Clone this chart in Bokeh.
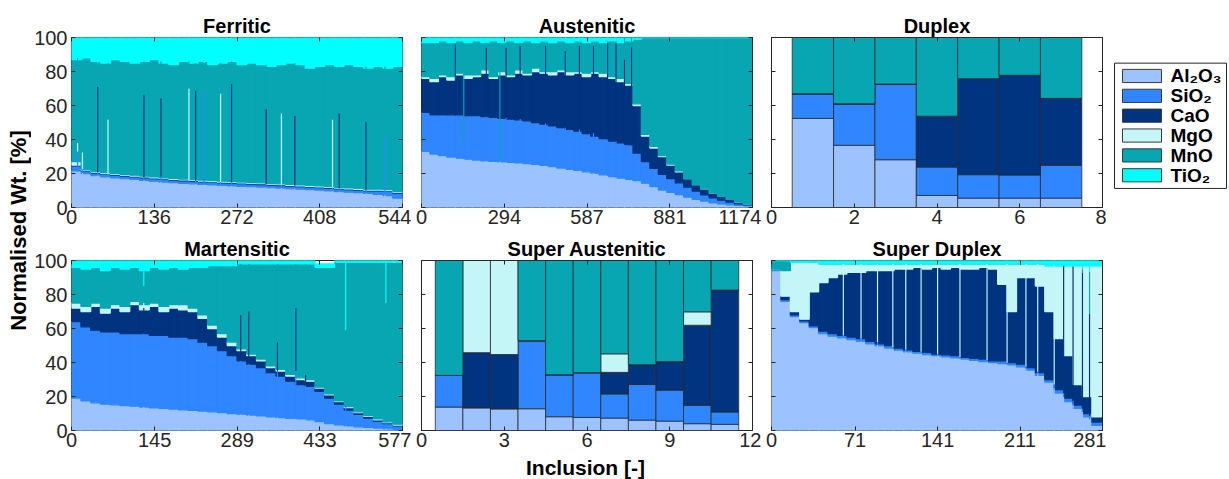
import math
from bokeh.plotting import figure
from bokeh.layouts import row, column
from bokeh.models import ColumnDataSource, Range1d, FixedTicker, LinearAxis
from bokeh.core.properties import value
from bokeh.embed import file_html
from bokeh.resources import INLINE

FONT = "Liberation Sans"
INK = "#262626"

OXIDES = ["Al₂O₃", "SiO₂", "CaO", "MgO", "MnO", "TiO₂"]
COLORS = ["#9CC3FF", "#2F86FF", "#003380", "#C4F5F7", "#08A6B3", "#00FFFF"]
KEYS = ["al2o3", "sio2", "cao", "mgo", "mno", "tio2"]
YTICKS = [0, 20, 40, 60, 80, 100]

# ---------------- Ferritic (n = 544) ----------------
FER_TICKS = [0, 136, 272, 408, 544]
FER_X = [8, 24, 40, 56, 72, 88, 104, 120, 136, 152, 168, 184, 200, 216, 232, 248, 264,
         280, 296, 312, 328, 344, 360, 376, 392, 408, 424, 440, 456, 472, 488, 504, 520, 536]
FER_AL = [21.5, 20, 18.8, 18, 17.5, 17, 16.5, 16, 15.5, 15, 14.6, 14.2, 13.9, 13.6, 13.3, 13, 12.8,
          12.5, 12.3, 12, 11.7, 11.4, 11.1, 10.8, 10.5, 10.2, 9.8, 9.4, 9, 8.7, 8.3, 7.8, 7, 5.5]
FER_SI = [3] + [1.5] * 30 + [2, 2.5, 3]
FER_CA = [0.5] * 34
FER_MG = [2] + [0.5] * 33
FER_MN = [60, 65.5, 64.7, 64.5, 67, 66.5, 66, 67.5, 69, 67.5, 66.9, 69.3, 68.6, 69.9, 68.2, 69.5, 70.7,
          69, 70.2, 69.5, 68.8, 70.1, 71.4, 70.7, 69, 70.3, 71.7, 71.1, 72.5, 71.8, 71.2, 72.2, 71.5, 73.5]
FER_TI = [13, 12, 14, 15, 13, 14, 15, 14, 13, 15, 16, 14, 15, 14, 16, 15, 14,
          16, 15, 16, 17, 16, 15, 16, 18, 17, 16, 17, 16, 17, 18, 17, 18, 17]
# single inclusions standing out of the trend
FERS_X = [10, 18, 43, 60, 119, 147, 193, 204, 218, 245, 263, 320, 345, 367, 429, 440, 484, 515]
FERS_AL = [21, 20.5, 18.9, 17.8, 16, 15.2, 14, 13.8, 13.5, 13, 12.8, 11.8, 11.4, 11, 9.7, 9.4, 8.4, 7.3]
FERS_SI = [12, 2, 2, 2, 2, 3, 2, 2, 55, 2, 2, 2, 2, 2, 2, 2, 2, 35]
FERS_CA = [0, 0, 50, 0, 48, 46, 0, 53, 0, 0, 58, 44, 0, 41, 0, 44, 40, 0]
FERS_MG = [5, 10, 0, 32, 0, 0, 54, 0, 0, 52, 0, 0, 42, 0, 40, 0, 0, 0]
FERS_MN = [50, 54.5, 14.1, 33.2, 20, 21.8, 16, 16.2, 16.5, 18, 13.2, 26.2, 28.6, 31, 32.3, 27.6, 32.6, 40.7]
FERS_TI = [12, 13, 15, 15, 14, 14, 14, 15, 15, 15, 14, 16, 16, 15, 16, 17, 17, 17]

# ---------------- Austenitic (n = 1174) ----------------
AUS_TICKS = [0, 294, 587, 881, 1174]
AUS_X = [15, 45, 75, 105, 135, 165, 195, 225, 255, 285, 315, 345, 375, 405, 435, 465, 495, 525, 555,
         585, 615, 645, 675, 705, 735, 765, 795, 825, 855, 885, 915, 945, 975, 1005, 1035, 1065, 1095,
         1125, 1155]
AUS_AL = [33.0, 31.4, 30.5, 29.7, 29.0, 28.4, 27.9, 27.5, 27.2, 26.9, 26.5, 26.2, 25.8, 25.4, 24.8,
          24.0, 23.2, 22.5, 21.8, 21.0, 20.2, 19.2, 18.2, 17.3, 16.5, 15.8, 14.3, 12.3, 10.3, 8.9, 7.6,
          6.1, 4.8, 3.7, 2.8, 2.1, 1.6, 1.2, 1.0]
AUS_SI = [23.0, 23.1, 24.0, 24.8, 25.5, 25.6, 26.1, 26.0, 25.8, 25.6, 25.5, 25.3, 25.2, 24.6, 24.2,
          24.0, 23.8, 23.5, 23.2, 22.5, 21.8, 21.3, 20.8, 20.7, 20.5, 16.2, 12.7, 10.7, 9.2, 8.1, 6.9,
          5.9, 4.8, 3.8, 2.9, 2.2, 1.6, 1.0, 0.6]
AUS_CA = [20.0, 19.5, 22.5, 20.5, 23.5, 22.0, 23.0, 25.5, 23.0, 25.5, 25.0, 27.5, 27.0, 30.0, 30.0,
          30.0, 33.0, 32.0, 34.0, 33.5, 37.0, 36.5, 37.0, 36.0, 35.0, 28.0, 15.0, 12.0, 10.5, 8.0, 6.5,
          5.0, 3.9, 3.5, 2.8, 2.2, 1.6, 1.0, 0.4]
AUS_MG = [1, 2, 1, 2, 1, 2, 1, 2, 1, 2, 1, 2, 1, 2, 1, 2, 1, 2, 1, 2, 1, 2, 1, 2, 1, 1, 1, 1, 0.5,
          0.5, 0.5, 0, 0, 0, 0, 0, 0, 0, 0]
AUS_MN = [20, 21, 20, 20, 19, 19, 20, 16, 21, 17, 20, 16, 19, 15, 18, 17, 17, 17, 18, 18, 18, 18, 21,
          21, 25, 38, 57, 64, 69.5, 74.5, 78.5, 83, 86.5, 89, 91.5, 93.5, 95.2, 96.8, 98]
AUS_TI = [3, 3, 2, 3, 2, 3, 2, 3, 2, 3, 2, 3, 2, 3, 2, 3, 2, 3, 2, 3, 2, 3, 2, 3, 2, 1, 0, 0, 0, 0,
          0, 0, 0, 0, 0, 0, 0, 0, 0]
AUSS_X = [120, 150, 230, 278, 300, 350, 440, 510, 560, 610, 660, 690, 720, 745]
AUSS_AL = [29.4, 28.7, 27.4, 27, 26.7, 26.1, 24.7, 22.9, 21.7, 20.3, 18.7, 17.8, 17, 16.3]
AUSS_SI = [24.6, 10, 26.1, 0, 26.3, 25.9, 24.8, 24.1, 24.3, 23.7, 21.3, 21.2, 20, 20]
AUSS_CA = [42, 0, 40.5, 0, 41, 43, 45.5, 45, 49, 51, 57, 58, 50, 58]
AUSS_MG = [0] * 14
AUSS_MN = [1, 58.3, 3, 70, 3, 2, 2, 5, 2, 2, 1, 1, 13, 5.7]
AUSS_TI = [3, 3, 3, 3, 3, 3, 3, 3, 3, 3, 2, 2, 0, 0]

# ---------------- Duplex (7 inclusions) ----------------
DUP_TICKS = [0, 2, 4, 6, 8]
DUP_X = [1, 2, 3, 4, 5, 6, 7]
DUP_AL = [52.4, 36.6, 28.1, 7.1, 5.5, 5.5, 5.5]
DUP_SI = [14.5, 24.4, 44.5, 16.7, 13.8, 13.6, 19.3]
DUP_CA = [0, 0, 0, 29.9, 56.5, 58.7, 39.4]
DUP_MG = [0, 0, 0, 0, 0, 0, 0]
DUP_MN = [33.1, 39.0, 27.4, 46.3, 24.2, 22.2, 35.8]
DUP_TI = [0, 0, 0, 0, 0, 0, 0]

# ---------------- Martensitic (n = 577) ----------------
MAR_TICKS = [0, 145, 289, 433, 577]
MAR_X = [8, 25, 42, 59, 76, 93, 110, 127, 144, 161, 178, 195, 212, 229, 246, 263, 280, 297, 314,
         331, 348, 365, 382, 399, 416, 433, 450, 467, 484, 501, 518, 535, 552, 569]
MAR_AL = [19.0, 17.5, 16.3, 15.6, 15.1, 14.7, 14.3, 13.8, 13.3, 13.0, 12.6, 12.2, 11.8, 11.4, 11.0,
          10.5, 10.0, 9.6, 9.1, 8.6, 8.1, 7.6, 7.2, 6.9, 6.3, 5.3, 4.0, 3.3, 2.7, 2.2, 1.8, 1.4, 1.0, 0.7]
MAR_SI = [45.0, 43.5, 42.7, 42.4, 42.9, 42.3, 42.7, 43.2, 42.7, 43.0, 42.4, 42.8, 42.2, 40.6, 39.0,
          36.5, 34.0, 31.4, 29.9, 28.4, 25.9, 24.4, 21.8, 20.1, 19.7, 17.7, 15.0, 12.2, 9.3, 7.3, 5.5,
          4.1, 3.0, 2.1]
MAR_CA = [8, 9, 14, 11, 14, 13, 17, 14, 17, 14, 17, 16, 16, 14, 10, 8, 6, 6, 5, 4, 3, 3, 3, 3, 3,
          2, 2, 1.5, 1.5, 1.0, 1.0, 0.8, 0.6, 0.4]
MAR_MG = [3, 3, 2, 3, 2, 3, 2, 3, 2, 3, 2, 3, 2, 2, 2, 2, 2, 1, 1, 1, 1, 1, 1, 1, 1, 0.5, 0.5, 0.5,
          0.5, 0.5, 0.5, 0.5, 0.5, 0.5]
MAR_MN = [21, 22, 21, 22, 22, 22, 20, 20, 21, 22, 22, 21, 24, 28, 35, 40, 45, 50, 53, 56, 60, 62, 65,
          67, 68, 70.5, 74.5, 81.5, 85, 88, 90.2, 92.2, 93.9, 95.3]
MAR_TI = [4, 5, 4, 6, 4, 5, 4, 6, 4, 5, 4, 5, 4, 4, 3, 3, 3, 2, 2, 2, 2, 2, 2, 2, 2, 2, 2, 1, 1, 1,
          1, 1, 1, 1]
MARS_X = [126, 295, 309, 359, 391, 408, 478, 548]
MARS_AL = [13.9, 9.6, 9.2, 7.8, 7, 6.6, 3, 1.1]
MARS_SI = [43.1, 31.4, 30, 27, 28, 20, 12, 4]
MARS_CA = [15, 27, 30.8, 17, 37, 6, 0, 0]
MARS_MG = [3, 0, 0, 0, 0, 0, 0, 0]
MARS_MN = [10, 30, 28, 46.2, 26, 65.4, 44, 69.9]
MARS_TI = [15, 2, 2, 2, 2, 2, 41, 25]

# ---------------- Super Austenitic (11 inclusions) ----------------
SAU_TICKS = [0, 3, 6, 9, 12]
SAU_X = [1, 2, 3, 4, 5, 6, 7, 8, 9, 10, 11]
SAU_AL = [13.8, 13.4, 12.8, 12.8, 8.1, 7.7, 7.3, 6.1, 5.5, 4.0, 3.6]
SAU_SI = [18.6, 0, 0, 40.0, 24.7, 26.3, 14.2, 21.0, 18.2, 10.8, 7.3]
SAU_CA = [0, 32.4, 31.9, 0, 0, 0, 12.7, 11.6, 16.8, 47.1, 71.7]
SAU_MG = [0, 54.2, 55.3, 0, 0, 0, 10.9, 0, 0, 7.9, 0]
SAU_MN = [67.6, 0, 0, 47.2, 67.2, 66.0, 54.9, 61.3, 59.5, 30.2, 17.4]
SAU_TI = [0, 0, 0, 0, 0, 0, 0, 0, 0, 0, 0]

# ---------------- Super Duplex (n = 281) ----------------
SDX_TICKS = [0, 71, 141, 211, 281]
SDX_X = [4, 12, 20, 28, 36, 44, 52, 60, 68, 76, 84, 92, 100, 108, 116, 124, 132, 140, 148, 156,
         164, 172, 180, 188, 196, 204, 212, 220, 228, 236, 244, 252, 260, 268, 276]
SDX_AL = [94, 76, 67, 63.5, 60.5, 57, 55.5, 54.5, 53.5, 52.5, 51, 49.8, 48.5, 47.3, 46.3, 45.5, 44.7,
          44, 43.3, 42.7, 42, 41.3, 40.6, 40, 39.4, 38.6, 37.5, 35.5, 32.5, 28.5, 22, 17, 13, 8, 3]
SDX_SI = [1, 1, 1, 1, 1, 1.5, 1.5, 1.5, 1.5, 1.5, 1.5, 1.2, 1.5, 1.2, 1.2, 1, 1.3, 1, 1.2, 1.3, 1,
          1.2, 1.4, 1, 1.6, 1.4, 1.5, 1.5, 1.5, 1.5, 2, 2, 2, 2, 2]
SDX_CA = [0, 2, 2, 1, 20, 28.5, 33, 36, 38, 39, 41.5, 43, 44, 46.5, 47.5, 49.5, 49, 51, 50.5, 52, 52,
          52.5, 54, 54, 45, 30, 51, 53, 51, 40, 30, 25, 12, 10, 3]
SDX_MG = [0, 15, 29, 33.5, 17.5, 11, 8, 6, 5, 5, 4, 4, 4, 3, 3, 2, 3, 2, 3, 2, 3, 3, 2, 3, 12, 28,
          8, 8, 13, 27, 43, 53, 70, 77, 89]
SDX_MN = [5, 6] + [0] * 33
SDX_TI = [0, 0, 1, 1, 1] + [2] * 24 + [3] * 6
SDXS_X = [61, 76, 90, 103, 114, 127, 141, 160, 183, 200, 216, 226, 240, 248, 256, 264, 270]
SDXS_AL = [54.4, 52.5, 50.5, 48, 46.5, 45.3, 44, 42.3, 40.4, 38.8, 36.5, 33.5, 25, 20, 15.5, 11, 6.5]
SDXS_SI = [1.5, 1.5, 1.5, 1, 1, 1, 1, 1, 1, 1, 1, 1, 2, 2, 2, 2, 2]
SDXS_CA = [0] * 13 + [75, 79, 80, 60]
SDXS_MG = [42.1, 44, 46, 49, 50.5, 51.7, 53, 54.7, 56.6, 58.2, 60.5, 63.5, 70, 0, 0, 0, 0]
SDXS_MN = [0] * 15 + [2, 25]
SDXS_TI = [2] * 12 + [3, 3, 3.5, 5, 6.5]

TICK_FS = "20px"
TITLE_FS = "20px"
YLABEL_FS = "22px"
XLABEL_FS = "21px"
FRAME_W, FRAME_H = 331, 170


def stack(p, xs, comps, width, mode):
    data = {"x": xs}
    for k, c in zip(KEYS, comps):
        data[k] = c
    src = ColumnDataSource(data)
    if mode == "dense":
        p.vbar_stack(KEYS, x="x", width=width, source=src, fill_color=COLORS,
                     line_color=COLORS, line_width=1.3)
    elif mode == "spike":
        p.vbar_stack(KEYS, x="x", width=width, source=src, fill_color=COLORS, line_color=None)
    else:
        p.vbar_stack(KEYS, x="x", width=width, source=src, fill_color=COLORS,
                     line_color="#2a2a2a", line_width=0.8)


def style_axis(ax, labels=True, standoff=2):
    ax.axis_line_color = None
    ax.major_tick_in = 4
    ax.major_tick_out = 0
    ax.major_tick_line_color = INK
    ax.minor_tick_line_color = None
    ax.major_label_text_font = FONT
    if labels:
        ax.major_label_text_color = INK
        ax.major_label_text_font_size = TICK_FS
        ax.major_label_standoff = standoff
    else:
        ax.major_label_text_color = None
        ax.major_label_text_font_size = "1px"
        ax.major_label_standoff = 0


def panel(title, xmax, ticks, left, right, top, bottom, ylabels):
    p = figure(width=left + FRAME_W + right, height=top + FRAME_H + bottom,
               frame_width=FRAME_W, frame_height=FRAME_H,
               x_range=Range1d(0, xmax), y_range=Range1d(0, 100),
               output_backend="svg", toolbar_location=None, title=title,
               min_border_left=left, min_border_right=right,
               min_border_top=top, min_border_bottom=bottom)
    p.grid.visible = False
    p.outline_line_color = INK
    p.outline_line_width = 1
    p.title.text_font = FONT
    p.title.text_font_size = TITLE_FS
    p.title.text_font_style = "bold"
    p.title.text_color = "black"
    p.title.align = "center"
    p.title.standoff = 2
    p.xaxis.ticker = FixedTicker(ticks=ticks)
    p.yaxis.ticker = FixedTicker(ticks=YTICKS)
    style_axis(p.xaxis[0], True, 2)
    style_axis(p.yaxis[0], ylabels, 4)
    ra = LinearAxis(ticker=FixedTicker(ticks=YTICKS))
    style_axis(ra, False)
    p.add_layout(ra, "right")
    ta = LinearAxis(ticker=FixedTicker(ticks=ticks))
    style_axis(ta, False)
    p.add_layout(ta, "above")
    return p


# geometry of the grid (pixels)
YL_W = 31
C1 = (39, 9)
C2 = (10, 9)
C3 = (10, 4)
R1 = (37, 25)
R2 = (28, 25)

f_fer = panel("Ferritic", 544, FER_TICKS, C1[0], C1[1], R1[0], R1[1], True)
stack(f_fer, FER_X, [FER_AL, FER_SI, FER_CA, FER_MG, FER_MN, FER_TI], 16, "dense")
stack(f_fer, FERS_X, [FERS_AL, FERS_SI, FERS_CA, FERS_MG, FERS_MN, FERS_TI], 2, "spike")

f_aus = panel("Austenitic", 1174, AUS_TICKS, C2[0], C2[1], R1[0], R1[1], False)
stack(f_aus, AUS_X, [AUS_AL, AUS_SI, AUS_CA, AUS_MG, AUS_MN, AUS_TI], 30, "dense")
stack(f_aus, AUSS_X, [AUSS_AL, AUSS_SI, AUSS_CA, AUSS_MG, AUSS_MN, AUSS_TI], 4, "spike")

f_dup = panel("Duplex", 8, DUP_TICKS, C3[0], C3[1], R1[0], R1[1], False)
stack(f_dup, DUP_X, [DUP_AL, DUP_SI, DUP_CA, DUP_MG, DUP_MN, DUP_TI], 1, "edge")

f_mar = panel("Martensitic", 577, MAR_TICKS, C1[0], C1[1], R2[0], R2[1], True)
stack(f_mar, MAR_X, [MAR_AL, MAR_SI, MAR_CA, MAR_MG, MAR_MN, MAR_TI], 17, "dense")
stack(f_mar, MARS_X, [MARS_AL, MARS_SI, MARS_CA, MARS_MG, MARS_MN, MARS_TI], 2, "spike")

f_sau = panel("Super Austenitic", 12, SAU_TICKS, C2[0], C2[1], R2[0], R2[1], False)
stack(f_sau, SAU_X, [SAU_AL, SAU_SI, SAU_CA, SAU_MG, SAU_MN, SAU_TI], 1, "edge")

f_sdx = panel("Super Duplex", 281, SDX_TICKS, C3[0], C3[1], R2[0], R2[1], False)
stack(f_sdx, SDX_X, [SDX_AL, SDX_SI, SDX_CA, SDX_MG, SDX_MN, SDX_TI], 8, "dense")
stack(f_sdx, SDXS_X, [SDXS_AL, SDXS_SI, SDXS_CA, SDXS_MG, SDXS_MN, SDXS_TI], 1, "spike")


def blank(w, h):
    p = figure(width=w, height=h, x_range=Range1d(0, w), y_range=Range1d(0, h),
               output_backend="svg", toolbar_location=None, min_border=0)
    p.axis.visible = False
    p.grid.visible = False
    p.outline_line_color = None
    return p


# legend
LG_W, LG_H = 124, R1[0] + FRAME_H + R1[1]
lg = blank(LG_W, LG_H)
lg.quad(left=[8], right=[120], top=[LG_H - 35], bottom=[LG_H - 206],
        fill_color="white", line_color=INK, line_width=1)
ys = [LG_H - (52.5 + 27.1 * i) for i in range(len(OXIDES))]
lg.quad(left=[16] * 6, right=[55] * 6, top=[y + 9 for y in ys], bottom=[y - 9 for y in ys],
        fill_color=COLORS, line_color="#3a3a3a", line_width=1)
lg.text(x=[64] * 6, y=ys, text=OXIDES, text_baseline="middle", text_align="left",
        text_font=value(FONT), text_font_size="19px", text_font_style="bold", text_color="black")

# y label strip
TOTAL_H = 479
ylab = blank(YL_W, TOTAL_H)
ylab.text(x=[18], y=[TOTAL_H - 230], text=["Normalised Wt. [%]"], angle=math.pi / 2,
          text_align="center", text_baseline="middle", text_font=value(FONT),
          text_font_size=YLABEL_FS, text_font_style="bold", text_color="black")

# x label strip
XL_W = 1229 - YL_W
XL_H = TOTAL_H - (R1[0] + FRAME_H + R1[1]) - (R2[0] + FRAME_H + R2[1])
xlab = blank(XL_W, XL_H)
xlab.text(x=[585 - YL_W], y=[XL_H / 2], text=["Inclusion [-]"], text_align="center",
          text_baseline="middle", text_font=value(FONT), text_font_size=XLABEL_FS,
          text_font_style="bold", text_color="black")

layout = row(ylab, column(row(f_fer, f_aus, f_dup, lg), row(f_mar, f_sau, f_sdx), xlab))

with open("out.html", "w") as fh:
    fh.write(file_html(layout, INLINE))
